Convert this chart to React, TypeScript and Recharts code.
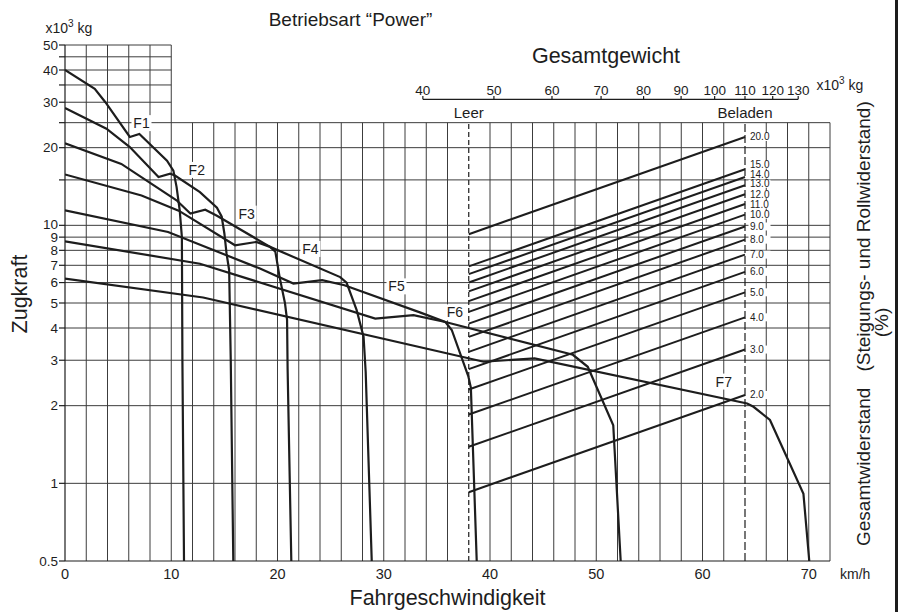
import React from "react";
import {
  LineChart,
  Line,
  XAxis,
  YAxis,
  ReferenceLine,
  ReferenceDot,
} from "recharts";

type Pt = [number, number];

// Zugkraftkurven je Gang: [km/h, x10^3 kg]
const f1: Pt[] = [
  [0, 40], [2.8, 33.8], [3.8, 30], [6.1, 22], [7.0, 22.6], [9.6, 17.8],
  [10.2, 16.3], [10.5, 14.1], [10.8, 11.4], [11.0, 9.0], [11.05, 3.0], [11.2, 0.5],
];
const f2: Pt[] = [
  [0, 28.5], [3.9, 23.7], [6.1, 20.1], [8.8, 15.4], [9.9, 15.85], [10.35, 15.6],
  [12.7, 13.45], [14.3, 11.7], [14.75, 10.8], [15.0, 9.3], [15.2, 7.8],
  [15.45, 6.7], [15.6, 3.0], [15.84, 0.5],
];
const f3: Pt[] = [
  [0, 20.8], [5.3, 17.3], [10.5, 12.5], [11.8, 11.1], [13.2, 11.5], [14.3, 10.9],
  [19.3, 8.25], [19.8, 7.9], [20.2, 6.3], [20.7, 5.0], [20.9, 4.3],
  [20.95, 2.8], [21.3, 0.5],
];
const f4: Pt[] = [
  [0, 15.75], [7.2, 13.06], [10.7, 11.4], [16.0, 8.37], [18.0, 8.62],
  [19.3, 8.25], [25.9, 6.3], [26.5, 6.0], [27.45, 4.69], [28.1, 3.7],
  [28.3, 2.7], [28.87, 0.5],
];
const f5: Pt[] = [
  [0, 11.43], [9.7, 9.42], [18.35, 6.8], [21.5, 5.95], [24.2, 6.13],
  [26.3, 5.86], [33.4, 4.6], [35.8, 4.22], [36.4, 3.93], [37.96, 2.6],
  [38.2, 2.35], [38.75, 0.5],
];
const f6: Pt[] = [
  [0, 8.67], [12.7, 7.1], [29.2, 4.35], [32.8, 4.49], [35.8, 4.22],
  [47.8, 3.15], [49.2, 2.83], [51.6, 1.68], [51.9, 1.0], [52.3, 0.5],
];
const f7: Pt[] = [
  [0, 6.22], [13, 5.25], [39.4, 2.96], [44.2, 3.05], [64.2, 2.04],
  [64.8, 1.98], [66.35, 1.76], [69.5, 0.91], [70.05, 0.5],
];

const gearCurves = [
  { name: "F1", points: f1 },
  { name: "F2", points: f2 },
  { name: "F3", points: f3 },
  { name: "F4", points: f4 },
  { name: "F5", points: f5 },
  { name: "F6", points: f6 },
  { name: "F7", points: f7 },
];

// Lage der Gangbeschriftungen
const gearLabels = [
  { name: "F1", v: 7.2, f: 24.9 },
  { name: "F2", v: 12.4, f: 16.4 },
  { name: "F3", v: 17.1, f: 11.1 },
  { name: "F4", v: 23.1, f: 8.1 },
  { name: "F5", v: 31.2, f: 5.8 },
  { name: "F6", v: 36.7, f: 4.6 },
  { name: "F7", v: 62.0, f: 2.48 },
];

const speedLabels = [0, 10, 20, 30, 40, 50, 60, 70];
const speedGrid = [
  2, 4, 6, 8, 10, 12, 14, 16, 18, 20, 22, 24, 26, 28, 30, 32, 34, 36,
  40, 42, 44, 46, 48, 50, 52, 54, 56, 58, 60, 62, 66, 68, 70, 72,
];
const forceTicks = [0.5, 1, 2, 3, 4, 5, 6, 7, 8, 9, 10, 15, 20, 25, 30, 35, 40, 45, 50];
const forceLabels = [0.5, 1, 2, 3, 4, 5, 6, 7, 8, 9, 10, 20, 30, 40, 50];
const forceGridLower = [1, 2, 3, 4, 5, 6, 7, 8, 9, 10, 15, 20, 25];
const forceGridUpper = [30, 35, 40, 45, 50];

// Gesamtwiderstand (%)
const grades = [2, 3, 4, 5, 6, 7, 8, 9, 10, 11, 12, 13, 14, 15, 20];
const weightTicks = [40, 50, 60, 70, 80, 90, 100, 110, 120, 130];
const leer = { speed: 38, weight: 46.2 };
const beladen = { speed: 64, weight: 110 };

const SPEED_MAX = 72;
const BOX_SPEED = 10;
const GRID_TOP = 25;
const WEIGHT_AXIS_F = 30.8;
const WEIGHT_TICK_F = 31.7;

// kleine Verschiebung der dicht stehenden Beschriftungen (px)
const gradeTagNudge: Record<number, number> = { 15: -4.5, 14: -2.5, 13: -1.5, 12: 0, 11: 0.5 };
const forceTickNudge: Record<number, number> = { 10: -1.5 };

const INK = "#1d1d1d";
const GRID = "#3c3c3c";
const FONT = '"Liberation Sans", Arial, Helvetica, sans-serif';

// Gewichtsachse (log) so legen, dass Leer/Beladen auf ihren Geschwindigkeiten sitzen
const decPerKmh =
  Math.log10(beladen.weight / leer.weight) / (beladen.speed - leer.speed);
const weightDomain: [number, number] = [
  leer.weight * Math.pow(10, -decPerKmh * leer.speed),
  leer.weight * Math.pow(10, decPerKmh * (SPEED_MAX - leer.speed)),
];
const weightAxisLine = [
  { w: weightTicks[0], f: WEIGHT_AXIS_F },
  { w: weightTicks[weightTicks.length - 1], f: WEIGHT_AXIS_F },
];

const gradeLines = grades.map((g) => ({
  g,
  data: [
    { v: leer.speed, f: (leer.weight * g) / 100 },
    { v: beladen.speed, f: (beladen.weight * g) / 100 },
  ],
}));

function GearTag({ cx, cy, text }: { cx: number; cy: number; text: string }) {
  return (
    <g>
      <rect x={cx - 10} y={cy - 8} width={20} height={16} fill="#fff" />
      <text x={cx} y={cy + 5} textAnchor="middle" fontSize={14} fill={INK}>
        {text}
      </text>
    </g>
  );
}

function GradeTag({ cx, cy, text, dy }: { cx: number; cy: number; text: string; dy: number }) {
  const y = cy + dy;
  return (
    <g>
      <rect x={cx + 3.5} y={y - 4} width={22} height={8} fill="#fff" />
      <text x={cx + 5} y={y + 3.5} fontSize={10} fill={INK}>
        {text}
      </text>
    </g>
  );
}

function ForceTick(props: any) {
  const { x, y, payload } = props;
  const v = payload.value as number;
  if (!forceLabels.includes(v)) return <g />;
  return (
    <text
      x={x}
      y={y + (forceTickNudge[v] ?? 0)}
      dy="0.355em"
      textAnchor="end"
      fontSize={13.5}
      fill={INK}
    >
      {String(v)}
    </text>
  );
}

export default function App() {
  return (
    <div
      style={{
        position: "absolute",
        left: 0,
        top: 0,
        width: 905,
        height: 612,
        background: "#fff",
        fontFamily: FONT,
      }}
    >
      <LineChart
        width={905}
        height={612}
        margin={{ top: 45, right: 75, bottom: 21, left: 5 }}
      >
        <XAxis
          xAxisId="v"
          type="number"
          dataKey="v"
          domain={[0, SPEED_MAX]}
          ticks={speedLabels}
          interval={0}
          allowDataOverflow
          height={30}
          tickLine={false}
          axisLine={{ stroke: INK, strokeWidth: 1.2 }}
          tick={{ fill: INK, fontSize: 14.5 }}
        />
        <XAxis
          xAxisId="w"
          type="number"
          dataKey="w"
          scale="log"
          domain={weightDomain}
          allowDataOverflow
          hide
        />
        <YAxis
          yAxisId="f"
          type="number"
          scale="log"
          domain={[0.5, 50]}
          ticks={forceTicks}
          interval={0}
          allowDataOverflow
          width={60}
          tickSize={6}
          tickMargin={1}
          tickLine={{ stroke: INK, strokeWidth: 1.2 }}
          axisLine={{ stroke: INK, strokeWidth: 1.2 }}
          tick={<ForceTick />}
        />

        {speedGrid.map((s) => (
          <ReferenceLine
            key={`gv${s}`}
            xAxisId="v"
            yAxisId="f"
            ifOverflow="visible"
            segment={[
              { x: s, y: 0.5 },
              { x: s, y: s <= BOX_SPEED ? 50 : GRID_TOP },
            ]}
            stroke={GRID}
            strokeWidth={1}
          />
        ))}
        {forceGridLower.map((f) => (
          <ReferenceLine
            key={`gl${f}`}
            xAxisId="v"
            yAxisId="f"
            ifOverflow="visible"
            segment={[
              { x: 0, y: f },
              { x: SPEED_MAX, y: f },
            ]}
            stroke={GRID}
            strokeWidth={1}
          />
        ))}
        {forceGridUpper.map((f) => (
          <ReferenceLine
            key={`gu${f}`}
            xAxisId="v"
            yAxisId="f"
            ifOverflow="visible"
            segment={[
              { x: 0, y: f },
              { x: BOX_SPEED, y: f },
            ]}
            stroke={GRID}
            strokeWidth={1}
          />
        ))}

        <ReferenceLine
          xAxisId="v"
          yAxisId="f"
          ifOverflow="visible"
          segment={[
            { x: leer.speed, y: 0.5 },
            { x: leer.speed, y: GRID_TOP },
          ]}
          stroke={INK}
          strokeWidth={1.2}
          strokeDasharray="5 3"
          label={{ value: "Leer", position: "top", offset: 5, fontSize: 15, fill: INK }}
        />
        <ReferenceLine
          xAxisId="v"
          yAxisId="f"
          ifOverflow="visible"
          segment={[
            { x: beladen.speed, y: 0.5 },
            { x: beladen.speed, y: GRID_TOP },
          ]}
          stroke={INK}
          strokeWidth={1.2}
          strokeDasharray="8 3"
          label={{ value: "Beladen", position: "top", offset: 5, fontSize: 15, fill: INK }}
        />

        {/* Gewichtsachse oben */}
        <Line
          xAxisId="w"
          yAxisId="f"
          data={weightAxisLine}
          dataKey="f"
          type="linear"
          stroke={INK}
          strokeWidth={1.2}
          dot={false}
          activeDot={false}
          isAnimationActive={false}
        />
        {weightTicks.map((w) => (
          <ReferenceLine
            key={`wt${w}`}
            xAxisId="w"
            yAxisId="f"
            ifOverflow="visible"
            segment={[
              { x: w, y: WEIGHT_AXIS_F },
              { x: w, y: WEIGHT_TICK_F },
            ]}
            stroke={INK}
            strokeWidth={1.2}
            label={{ value: String(w), position: "top", offset: 1.5, fontSize: 13.5, fill: INK }}
          />
        ))}

        {gradeLines.map((gl) => (
          <Line
            key={`gr${gl.g}`}
            xAxisId="v"
            yAxisId="f"
            data={gl.data}
            dataKey="f"
            type="linear"
            stroke={INK}
            strokeWidth={2}
            dot={false}
            activeDot={false}
            isAnimationActive={false}
          />
        ))}
        {gearCurves.map((c) => (
          <Line
            key={c.name}
            xAxisId="v"
            yAxisId="f"
            data={c.points.map(([v, f]) => ({ v, f }))}
            dataKey="f"
            type="linear"
            stroke={INK}
            strokeWidth={2.2}
            dot={false}
            activeDot={false}
            isAnimationActive={false}
          />
        ))}

        {gradeLines.map((gl) => (
          <ReferenceDot
            key={`gt${gl.g}`}
            xAxisId="v"
            yAxisId="f"
            x={beladen.speed}
            y={gl.data[1].f}
            r={0}
            ifOverflow="visible"
            shape={(p: any) => (
              <GradeTag
                cx={p.cx}
                cy={p.cy}
                dy={gradeTagNudge[gl.g] ?? 0}
                text={gl.g.toFixed(1)}
              />
            )}
          />
        ))}
        {gearLabels.map((l) => (
          <ReferenceDot
            key={`lt${l.name}`}
            xAxisId="v"
            yAxisId="f"
            x={l.v}
            y={l.f}
            r={0}
            ifOverflow="visible"
            shape={(p: any) => <GearTag cx={p.cx} cy={p.cy} text={l.name} />}
          />
        ))}
      </LineChart>

      <svg
        width={905}
        height={612}
        style={{ position: "absolute", left: 0, top: 0, pointerEvents: "none" }}
      >
        <g fill={INK} fontFamily={FONT}>
          <text x={350.5} y={26} textAnchor="middle" fontSize={19}>
            Betriebsart “Power”
          </text>
          <text x={606} y={63} textAnchor="middle" fontSize={21.5}>
            Gesamtgewicht
          </text>
          <text x={45.5} y={33} fontSize={14}>
            x10<tspan dy={-6} fontSize={10}>3</tspan>
            <tspan dy={6}> kg</tspan>
          </text>
          <text x={816.5} y={90} fontSize={14}>
            x10<tspan dy={-6} fontSize={10}>3</tspan>
            <tspan dy={6}> kg</tspan>
          </text>
          <text
            x={27}
            y={294}
            textAnchor="middle"
            fontSize={21.5}
            transform="rotate(-90 27 294)"
          >
            Zugkraft
          </text>
          <text x={447.5} y={605} textAnchor="middle" fontSize={21.5}>
            Fahrgeschwindigkeit
          </text>
          <text x={840} y={579} fontSize={14}>
            km/h
          </text>
          <text x={870} y={546} fontSize={19} transform="rotate(-90 870 546)">
            Gesamtwiderstand
            <tspan dx={16}>(Steigungs- und Rollwiderstand)</tspan>
          </text>
          <text
            x={888}
            y={322.5}
            textAnchor="middle"
            fontSize={19}
            transform="rotate(-90 888 322.5)"
          >
            (%)
          </text>
          <rect x={895} y={0} width={3} height={612} />
        </g>
      </svg>
    </div>
  );
}
